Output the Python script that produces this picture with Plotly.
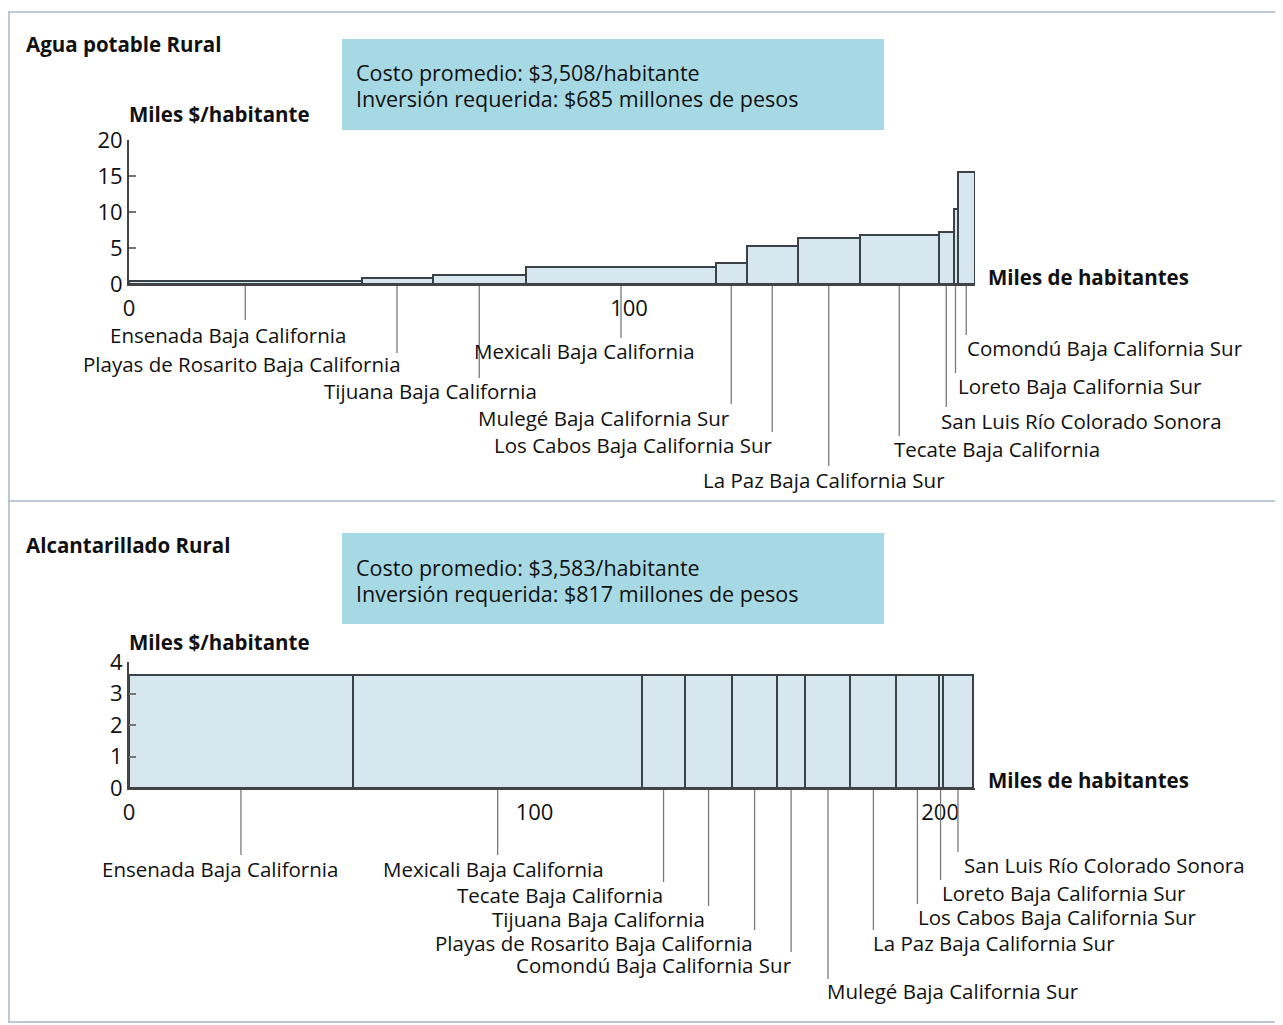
import numpy as np
import plotly.graph_objects as go

W, H = 1283, 1025
OFF = 8  # page body margin shifts the figure by this much
FONT = "Open Sans"

# --- datos: agua potable rural (miles de habitantes, miles $/habitante)
agua_municipios = [
    "Ensenada Baja California", "Playas de Rosarito Baja California",
    "Tijuana Baja California", "Mexicali Baja California",
    "Mulegé Baja California Sur", "Los Cabos Baja California Sur",
    "La Paz Baja California Sur", "Tecate Baja California",
    "San Luis Río Colorado Sonora", "Loreto Baja California Sur",
    "Comondú Baja California Sur",
]
agua_poblacion = [46.5, 14.2, 18.7, 38.0, 6.1, 10.3, 12.3, 15.9, 2.9, 0.8, 3.5]
agua_costo = [0.4, 0.9, 1.25, 2.3, 2.9, 5.3, 6.35, 6.85, 7.2, 10.4, 15.6]
agua_yticks = [0, 5, 10, 15, 20]
agua_xticks = [0, 100]

# --- datos: alcantarillado rural
alc_municipios = [
    "Ensenada Baja California", "Mexicali Baja California",
    "Tecate Baja California", "Tijuana Baja California",
    "Playas de Rosarito Baja California", "Comondú Baja California Sur",
    "Mulegé Baja California Sur", "La Paz Baja California Sur",
    "Los Cabos Baja California Sur", "Loreto Baja California Sur",
    "San Luis Río Colorado Sonora",
]
alc_poblacion = [55.2, 71.4, 10.4, 11.8, 10.9, 7.1, 11.1, 11.3, 10.4, 1.0, 7.6]
alc_costo = [3.58] * 11
alc_yticks = [0, 1, 2, 3, 4]
alc_xticks = [0, 100, 200]


def px(x):
    return (x - OFF) / W


def py(y):
    return 1 - (y - OFF) / H


# label placement (left px, centre y px, leader end y px)
agua_lab_pos = [
    (108, 335, 320), (81, 364, 353), (322, 391, 378), (472, 351, 338),
    (476, 418, 404), (492, 445, 432), (701, 480, 466), (892, 449, 436),
    (939, 421, 407), (956, 386, 373), (965, 348, 335),
]
alc_lab_pos = [
    (100, 869, 855), (381, 869, 855), (455, 895, 882), (490, 919, 906),
    (433, 943, 930), (514, 965, 952), (825, 991, 979), (871, 943, 930),
    (916, 917, 904), (940, 893, 880), (962, 865, 852),
]

fig = go.Figure()

BAR_FILL = "#d7e7f0"
BAR_LINE = "#3a4247"

shapes = []
annotations = []


def add_panel(xa, ya, muni, pob, costo, lab_pos, axis_px):
    pob = np.array(pob)
    left = np.concatenate([[0], np.cumsum(pob)[:-1]])
    mid = left + pob / 2
    fig.add_trace(go.Bar(
        x=mid, y=costo, width=pob, xaxis=xa, yaxis=ya,
        marker=dict(color=BAR_FILL, line=dict(color=BAR_LINE, width=2)),
        hovertext=muni, showlegend=False,
    ))
    xref = "x" if xa == "x" else "x2"
    for m, (lx, ly, ey) in zip(mid, lab_pos):
        shapes.append(dict(type="line", xref=xref, yref="paper",
                           x0=m, x1=m, y0=py(axis_px + 2), y1=py(ey),
                           line=dict(color="#7a7a7a", width=1.3)))
    for name, (lx, ly, ey) in zip(muni, lab_pos):
        annotations.append(dict(text=name, x=px(lx), y=py(ly), xref="paper", yref="paper",
                                xanchor="left", yanchor="middle", showarrow=False,
                                font=dict(size=20.5, color="#111", family=FONT)))


add_panel("x", "y", agua_municipios, agua_poblacion, agua_costo, agua_lab_pos, 284)
add_panel("x2", "y2", alc_municipios, alc_poblacion, alc_costo, alc_lab_pos, 788)

axis_font = dict(size=22, color="#111", family=FONT)
xcommon = dict(showgrid=False, zeroline=False, showline=True, linecolor="#444", linewidth=2,
               ticks="outside", ticklen=4, tickcolor="rgba(0,0,0,0)", tickfont=axis_font,
               automargin=False)
ycommon = dict(showgrid=False, zeroline=False, showline=True, linecolor="#444", linewidth=2,
               ticks="inside", ticklen=7, tickwidth=2, tickcolor="#777", tickfont=axis_font,
               automargin=False)

fig.update_layout(
    width=W, height=H,
    margin=dict(l=0, r=0, t=0, b=0, autoexpand=False),
    paper_bgcolor="white", plot_bgcolor="rgba(0,0,0,0)",
    bargap=0,
    xaxis=dict(domain=[px(129), px(975)], range=[0, 169.2], anchor="y",
               tickvals=agua_xticks, **xcommon),
    yaxis=dict(domain=[py(284), py(140)], range=[0, 20], anchor="x",
               tickvals=agua_yticks, **ycommon),
    xaxis2=dict(domain=[px(129), px(975)], range=[0, 208.6], anchor="y2",
                tickvals=alc_xticks, **xcommon),
    yaxis2=dict(domain=[py(788), py(662)], range=[0, 4], anchor="x2",
                tickvals=alc_yticks, **ycommon),
)

# info boxes and frame
box_color = "#a7d9e4"
frame = "#a9b7cb"
shapes += [
    dict(type="rect", xref="paper", yref="paper", x0=px(342), x1=px(884), y0=py(130), y1=py(39),
         fillcolor=box_color, line=dict(width=0), layer="below"),
    dict(type="rect", xref="paper", yref="paper", x0=px(342), x1=px(884), y0=py(624), y1=py(533),
         fillcolor=box_color, line=dict(width=0), layer="below"),
    dict(type="line", xref="paper", yref="paper", x0=px(8), x1=1, y0=py(12), y1=py(12),
         line=dict(color=frame, width=1.5)),
    dict(type="line", xref="paper", yref="paper", x0=px(8), x1=1, y0=py(501), y1=py(501),
         line=dict(color=frame, width=1.5)),
    dict(type="line", xref="paper", yref="paper", x0=px(8), x1=1, y0=py(1022), y1=py(1022),
         line=dict(color=frame, width=1.5)),
    dict(type="line", xref="paper", yref="paper", x0=px(9), x1=px(9), y0=py(12), y1=py(1022),
         line=dict(color=frame, width=1.5)),
]

bold = dict(size=20.5, color="#111", family=FONT, weight="bold")
regular = dict(size=21.5, color="#111", family=FONT)


def txt(s, x, y, font):
    annotations.append(dict(text=s, x=px(x), y=py(y), xref="paper", yref="paper",
                            xanchor="left", yanchor="middle", showarrow=False, font=font))


txt("Agua potable Rural", 24, 44, bold)
txt("Alcantarillado Rural", 24, 545, bold)
txt("Costo promedio: $3,508/habitante", 354, 72, regular)
txt("Inversión requerida: $685 millones de pesos", 354, 99, regular)
txt("Costo promedio: $3,583/habitante", 354, 567, regular)
txt("Inversión requerida: $817 millones de pesos", 354, 593, regular)
txt("Miles $/habitante", 127, 114, bold)
txt("Miles $/habitante", 127, 642, bold)
txt("Miles de habitantes", 986, 277, bold)
txt("Miles de habitantes", 986, 780, bold)

fig.update_layout(shapes=shapes, annotations=annotations)

fig.write_html("out.html")
